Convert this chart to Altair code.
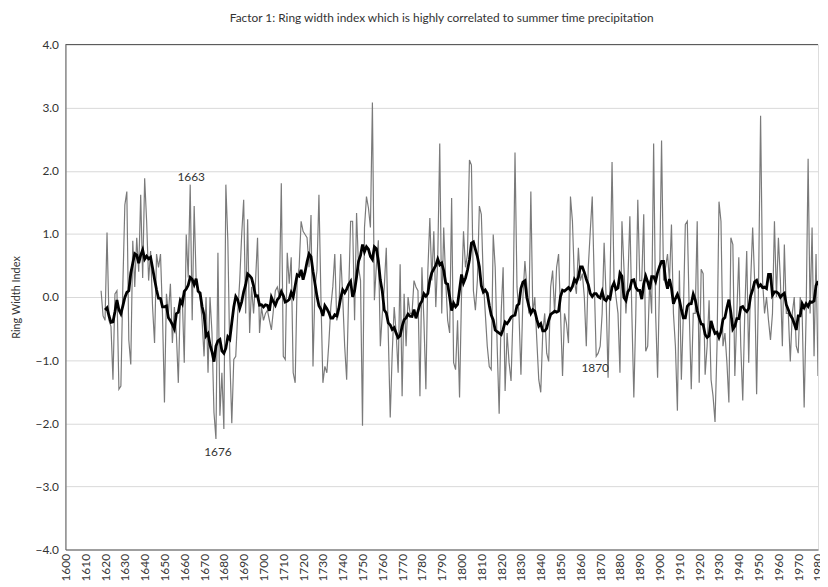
import altair as alt
import pandas as pd

# ---------------- data ----------------
start_year = 1618
ring_width = [
    # 1618-1657
    0.10, -0.30, -0.37, 1.02, -0.37, -0.47, -1.31, 0.05, 0.10, -1.46,
    -1.41, 0.20, 1.46, 1.67, -0.68, -1.07, 0.89, 0.16, 0.94, 0.40,
    1.62, 0.30, 1.88, 1.20, 0.26, 0.73, -0.16, -0.73, 0.68, 0.47,
    0.68, -0.26, -1.67, 0.05, -0.26, 0.21, -0.73, -0.16, -0.57, -1.36,
    # 1658-1697
    -0.05, 0.00, -1.04, 0.99, 0.31, 1.78, -0.37, 1.44, 0.26, 0.10,
    0.00, -0.37, -0.94, 0.00, -1.20, 0.00, -0.57, -1.83, -2.25, 0.70,
    -1.88, -1.20, -2.09, 1.78, 0.90, -0.94, -2.00, -0.99, -0.94, -0.26,
    0.26, 0.99, 1.54, -0.26, 1.23, -0.57, 0.16, -0.26, 0.26, 0.94,
    # 1698-1737
    -0.57, -0.16, -0.37, -0.26, -0.21, -0.37, -0.52, -0.21, 0.10, 0.16,
    0.00, 1.80, -0.94, -0.99, 0.70, 0.21, 0.63, -1.20, -1.36, 0.26,
    0.47, 1.20, 1.04, 0.99, 0.94, 0.47, 1.30, -1.10, 0.16, 0.42,
    1.62, 0.00, -1.36, -1.10, -1.20, -0.73, -0.16, 0.16, 0.68, -0.37,
    # 1738-1777
    -0.26, 0.68, 0.00, -0.78, -1.31, 0.05, 1.20, 1.20, -0.37, 1.33,
    0.47, 0.26, -2.04, 1.10, 1.59, 1.41, 1.10, 3.08, -0.05, 0.50,
    0.90, -0.78, -0.26, 0.16, 0.78, -0.57, -1.91, -0.89, -0.16, -0.57,
    -1.20, 0.52, -1.57, 0.05, -0.78, 0.00, -0.26, -0.26, 0.26, 0.16,
    # 1778-1817
    0.10, -1.57, 0.47, -0.37, -1.46, 0.42, 1.25, 0.26, 1.04, -0.16,
    0.63, 2.43, -0.26, 1.10, 0.26, -0.37, -0.57, 1.57, -1.04, -1.15,
    -0.37, -1.59, 0.05, 1.04, 0.47, 0.68, 2.17, 2.09, 0.10, -0.21,
    0.26, 1.44, 1.31, 0.26, -0.26, -0.78, -1.10, -1.15, 0.99, 0.47,
    # 1818-1857
    -0.78, -1.85, -0.26, 0.47, -1.49, -0.57, -1.04, -1.33, -0.26, 2.29,
    0.16, -0.26, -1.23, 0.00, 0.57, 0.16, -0.26, 1.67, -0.26, 0.00,
    -0.68, -1.31, -1.51, -0.57, -0.26, -0.89, -1.02, 0.16, 0.42, -0.26,
    0.47, 0.68, -0.26, -1.25, -0.26, -0.42, -0.73, 1.59, 1.20, 0.26,
    # 1858-1897
    0.05, 0.78, 0.26, 0.37, 0.00, -0.78, 0.47, 1.04, 1.59, 0.26,
    -0.94, -0.89, -0.78, -0.26, 0.86, 0.00, -1.28, 0.26, 2.14, 0.26,
    0.00, -0.26, -1.20, 1.20, 0.47, -0.26, 0.26, 1.28, -0.26, -1.59,
    -0.26, 1.54, 0.26, 0.26, 1.31, -0.86, -0.78, 0.26, -0.26, 2.43,
    # 1898-1937
    -0.26, -1.28, 0.26, 2.48, 0.26, 0.47, 0.68, 0.26, 1.15, -0.26,
    -0.78, -1.80, 0.42, -1.31, -0.26, 1.15, 1.20, -0.26, -1.46, -0.26,
    -0.26, 1.20, -1.36, 0.44, 0.37, -1.23, -0.78, -0.05, -1.31, -1.57,
    -1.98, -0.78, 1.51, 1.20, -0.78, -0.57, -1.04, -1.67, 0.94, 0.83,
    # 1938-1980
    -1.25, -0.26, 0.63, -0.78, -1.64, -0.26, 0.73, -1.04, 0.26, 1.10,
    0.26, -1.54, 0.26, 2.87, 0.26, -0.26, 0.00, -0.37, -0.68, -0.26,
    1.20, 0.00, 0.94, 0.26, -0.78, 0.83, -0.26, -0.26, -1.02, -0.26,
    0.00, -0.78, -0.89, 0.00, -0.26, -1.75, -0.26, 2.19, -0.26, 1.10,
    -0.94, 0.68, -1.25,
]
years = list(range(start_year, start_year + len(ring_width)))

x_tick_years = list(range(1600, 1981, 10))
y_tick_values = [-4, -3, -2, -1, 0, 1, 2, 3, 4]

ann_text = ["1663", "1676", "1870"]
ann_year = [1663.5, 1677.0, 1867.5]
ann_value = [1.90, -2.45, -1.12]

frame_top = [4]

# ---------------- chart ----------------
FONT = "Lato"
TXT = "#333333"
AX = "#595959"

df = pd.DataFrame({"year": years, "value": ring_width})
ann = pd.DataFrame({"year": ann_year, "value": ann_value, "label": ann_text})
top = pd.DataFrame({"v": frame_top})

x_scale = alt.Scale(domain=[1600, 1980], nice=False, zero=False)
y_scale = alt.Scale(domain=[-4, 4], nice=False, zero=False)

x_axis = alt.Axis(values=x_tick_years, format="d", labelAngle=270, grid=False,
                  ticks=False, labelPadding=4, title=None, labelFontSize=12,
                  labelColor=TXT, labelFont=FONT, domainColor=AX,
                  labelOverlap=False, labelFlush=False, labelBound=False)
y_axis = alt.Axis(values=y_tick_values, format=".1f", grid=True, gridColor="#d9d9d9",
                  ticks=False, labelPadding=7, labelFontSize=12, labelColor=TXT,
                  labelFont=FONT, domainColor=AX, title="Ring Width Index",
                  titleFont=FONT, titleFontSize=11, titleFontWeight="normal",
                  titleColor=TXT, titlePadding=14, labelOverlap=False)

X = alt.X("year:Q", scale=x_scale, axis=x_axis)

raw = alt.Chart(df).mark_line(color="#7a7a7a", strokeWidth=1.2, clip=True).encode(
    x=X,
    y=alt.Y("value:Q", scale=y_scale, axis=y_axis),
)

smooth = alt.Chart(df).transform_window(
    smooth="mean(value)", frame=[-5, 5], sort=[alt.SortField("year")]
).transform_filter(alt.datum.year >= 1620).mark_line(
    color="black", strokeWidth=2.8, clip=True
).encode(
    x=X,
    y=alt.Y("smooth:Q", scale=y_scale, axis=y_axis),
)

top_rule = alt.Chart(top).mark_rule(color=AX, strokeWidth=1).encode(
    y=alt.Y("v:Q", scale=y_scale, axis=y_axis)
)

labels = alt.Chart(ann).mark_text(font=FONT, fontSize=12, color=TXT).encode(
    x=X,
    y=alt.Y("value:Q", scale=y_scale, axis=y_axis),
    text="label:N",
)

chart = alt.layer(raw, smooth, top_rule, labels).properties(
    width=760,
    height=510,
    title=alt.TitleParams(
        "Factor 1: Ring width index which is highly correlated to summer time precipitation",
        font=FONT, fontSize=12, fontWeight="normal", color=TXT, anchor="middle", offset=14,
    ),
    autosize=alt.AutoSizeParams(type="none"),
    padding={"left": 58, "top": 34, "right": 2, "bottom": 35},
).configure_view(stroke=None).configure(background="white")

chart.save("out.html", embed_options={"renderer": "svg", "actions": False})
